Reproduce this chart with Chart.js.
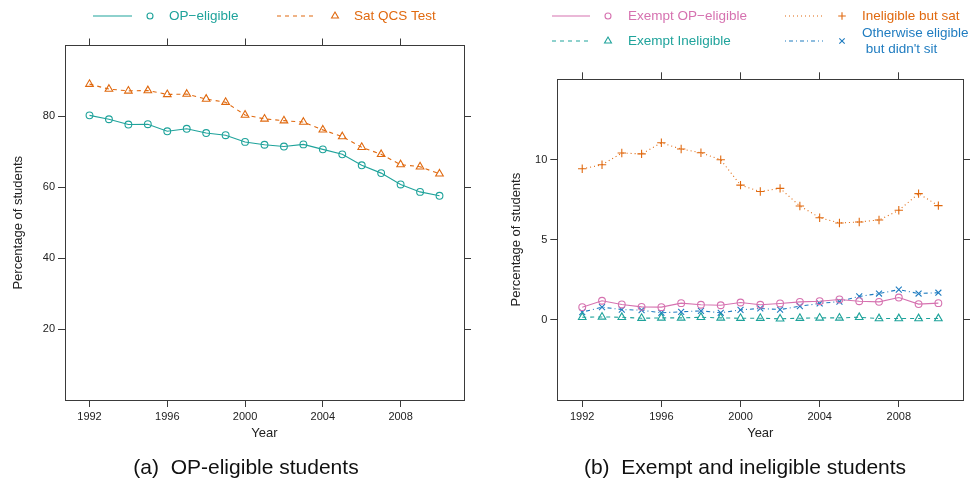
<!DOCTYPE html>
<html>
<head>
<meta charset="utf-8">
<script src="https://cdn.jsdelivr.net/npm/chart.js@4/dist/chart.umd.min.js"></script>
<style>
  html, body { margin: 0; padding: 0; background: #fff; }
  body { width: 970px; height: 492px; position: relative; overflow: hidden;
         font-family: 'Liberation Sans', Arial, sans-serif; }
  .panel { position: absolute; top: 0; height: 492px; }
  .caption { position: absolute; top: 455px; font-size: 21px; color: #111;
             white-space: pre; transform: translateX(-50%); }
</style>
</head>
<body>
<div class="panel" style="left:0;width:485px"><canvas id="left" width="485" height="492"></canvas></div>
<div class="panel" style="left:490px;width:480px"><canvas id="right" width="480" height="492"></canvas></div>
<div class="caption" style="left:246px">(a)  OP-eligible students</div>
<div class="caption" style="left:745px">(b)  Exempt and ineligible students</div>
<script>
// data
const years = [1992, 1993, 1994, 1995, 1996, 1997, 1998, 1999, 2000, 2001,
               2002, 2003, 2004, 2005, 2006, 2007, 2008, 2009, 2010];

// panel (a)
const opEligible = [80.3, 79.2, 77.7, 77.8, 75.8, 76.5, 75.3, 74.7, 72.8, 72.0,
                    71.5, 72.1, 70.7, 69.3, 66.2, 64.0, 60.8, 58.7, 57.6];
const satQcs = [89.1, 87.7, 87.2, 87.3, 86.2, 86.3, 84.9, 84.0, 80.4, 79.3,
                78.8, 78.4, 76.2, 74.3, 71.3, 69.3, 66.4, 65.8, 63.8];

// panel (b)
const exemptOp = [0.79, 1.19, 0.96, 0.81, 0.79, 1.04, 0.94, 0.91, 1.08, 0.94,
                  1.02, 1.12, 1.16, 1.27, 1.16, 1.12, 1.39, 0.98, 1.04];
const exemptInel = [0.16, 0.18, 0.16, 0.10, 0.12, 0.12, 0.16, 0.12, 0.10, 0.10,
                    0.06, 0.10, 0.12, 0.12, 0.16, 0.08, 0.08, 0.08, 0.08];
const inelSat = [9.42, 9.67, 10.4, 10.35, 11.04, 10.65, 10.42, 9.98, 8.4, 8.0,
                 8.2, 7.1, 6.37, 6.04, 6.1, 6.23, 6.83, 7.87, 7.12];
const didntSit = [0.48, 0.79, 0.64, 0.60, 0.44, 0.50, 0.56, 0.44, 0.62, 0.71,
                  0.64, 0.85, 1.02, 1.14, 1.46, 1.64, 1.88, 1.64, 1.69];

const yearTicks = [1992, 1996, 2000, 2004, 2008];
const leftTicks = [20, 40, 60, 80];
const rightTicks = [0, 5, 10];

const labelsA = ['OP\u2212eligible', 'Sat QCS Test'];
const labelsB = ['Exempt OP\u2212eligible', 'Exempt Ineligible', 'Ineligible but sat',
                 ['Otherwise eligible', ' but didn\'t sit']];

const TEAL = '#1fa39b', ORANGE = '#e0690f', PINK = '#d672b0', BLUE = '#1f7cc0';
const FONT = "'Liberation Sans', Arial, sans-serif";
const AXIS = '#3a3a3a', TEXT = '#222';

function series(label, data, color, dash, style, radius) {
    return {
        label: label,
        data: years.map((y, i) => ({ x: y, y: data[i] })),
        borderColor: color,
        borderWidth: 1.1,
        borderDash: dash,
        pointStyle: style,
        pointRadius: radius,
        pointBorderColor: color,
        pointBackgroundColor: 'rgba(0,0,0,0)',
        pointBorderWidth: 1.1,
        tension: 0
    };
}

function keepTicks(list) {
    return scale => { scale.ticks = list.map(v => ({ value: v })); };
}

function buildScales(yMin, yMax, yTicks, sizes) {
    const grid = { drawOnChartArea: false, drawTicks: true, tickLength: 7, color: AXIS };
    const border = { color: AXIS, width: 1 };
    const tickFont = { family: FONT, size: 11 };
    const xRange = { type: 'linear', min: 1990.74, max: 2011.26 };
    return {
        x: Object.assign({}, xRange, {
            position: 'bottom', grid: grid, border: border,
            afterBuildTicks: keepTicks(yearTicks),
            ticks: { font: tickFont, color: TEXT, padding: 3, maxRotation: 0,
                     autoSkip: false, callback: v => String(v) },
            title: { display: true, text: 'Year', color: TEXT,
                     font: { family: FONT, size: 13 }, padding: { top: 0, bottom: 9 } },
            afterFit: s => { s.height = 50; }
        }),
        x2: Object.assign({}, xRange, {
            position: 'top', grid: grid, border: border,
            afterBuildTicks: keepTicks(yearTicks),
            ticks: { display: false },
            afterFit: s => { s.height = sizes.top; }
        }),
        y: {
            type: 'linear', min: yMin, max: yMax, position: 'left',
            grid: grid, border: border,
            afterBuildTicks: keepTicks(yTicks),
            ticks: { font: tickFont, color: TEXT, padding: 3, callback: v => String(v) },
            title: { display: true, text: 'Percentage of students', color: TEXT,
                     font: { family: FONT, size: 13 }, padding: { top: sizes.titlePad, bottom: 0 } },
            afterFit: s => { s.width = sizes.left; }
        },
        y2: {
            type: 'linear', min: yMin, max: yMax, position: 'right',
            grid: grid, border: border,
            afterBuildTicks: keepTicks(yTicks),
            ticks: { display: false },
            afterFit: s => { s.width = sizes.right; }
        }
    };
}

// legend in the strip above each panel: line sample, marker, coloured text
const keyLegend = {
    id: 'keyLegend',
    afterDraw(chart, args, opts) {
        const ctx = chart.ctx;
        ctx.save();
        opts.items.forEach(item => {
            const ds = chart.data.datasets[item.index];
            ctx.strokeStyle = ds.borderColor;
            ctx.lineWidth = ds.borderWidth;
            ctx.setLineDash(ds.borderDash || []);
            ctx.beginPath();
            ctx.moveTo(item.x0, item.y);
            ctx.lineTo(item.x1, item.y);
            ctx.stroke();
            ctx.setLineDash([]);
            ctx.fillStyle = 'rgba(0,0,0,0)';
            Chart.helpers.drawPoint(ctx, {
                pointStyle: ds.pointStyle, radius: ds.pointRadius - 0.4,
                borderWidth: ds.pointBorderWidth, rotation: 0
            }, item.mx, item.y);
            ctx.fillStyle = ds.borderColor;
            ctx.font = '13.5px ' + FONT;
            ctx.textBaseline = 'middle';
            const lines = Array.isArray(ds.label) ? ds.label : [ds.label];
            lines.forEach((t, k) => {
                const ty = lines.length > 1 ? item.y - 8 + k * 16 : item.y;
                ctx.fillText(t, item.tx, ty);
            });
        });
        ctx.restore();
    }
};

new Chart(document.getElementById('left'), {
    type: 'line',
    data: {
        datasets: [
            series(labelsA[0], opEligible, TEAL, [], 'circle', 3.4),
            series(labelsA[1], satQcs, ORANGE, [4, 4], 'triangle', 4.4)
        ]
    },
    options: {
        responsive: false, animation: false,
        layout: { padding: { bottom: 42 } },
        scales: buildScales(0, 100, leftTicks, { top: 45.5, left: 65, right: 21, titlePad: 11 }),
        plugins: {
            legend: { display: false }, tooltip: { enabled: false },
            keyLegend: { items: [
                { index: 0, x0: 93, x1: 132, mx: 150, tx: 169, y: 16 },
                { index: 1, x0: 277, x1: 316, mx: 335, tx: 354, y: 16 }
            ] }
        }
    },
    plugins: [keyLegend]
});

new Chart(document.getElementById('right'), {
    type: 'line',
    data: {
        datasets: [
            series(labelsB[0], exemptOp, PINK, [], 'circle', 3.4),
            series(labelsB[1], exemptInel, TEAL, [4, 4], 'triangle', 4.4),
            series(labelsB[2], inelSat, ORANGE, [1, 3], 'cross', 4.2),
            series(labelsB[3], didntSit, BLUE, [1, 3, 4, 3], 'crossRot', 4.2)
        ]
    },
    options: {
        responsive: false, animation: false,
        layout: { padding: { bottom: 42 } },
        scales: buildScales(-5, 15, rightTicks, { top: 79.3, left: 67.3, right: 6.7, titlePad: 19 }),
        plugins: {
            legend: { display: false }, tooltip: { enabled: false },
            keyLegend: { items: [
                { index: 0, x0: 62, x1: 100, mx: 118, tx: 138, y: 16 },
                { index: 1, x0: 62, x1: 100, mx: 118, tx: 138, y: 41 },
                { index: 2, x0: 295, x1: 333, mx: 352, tx: 372, y: 16 },
                { index: 3, x0: 295, x1: 333, mx: 352, tx: 372, y: 41 }
            ] }
        }
    },
    plugins: [keyLegend]
});
</script>
</body>
</html>
